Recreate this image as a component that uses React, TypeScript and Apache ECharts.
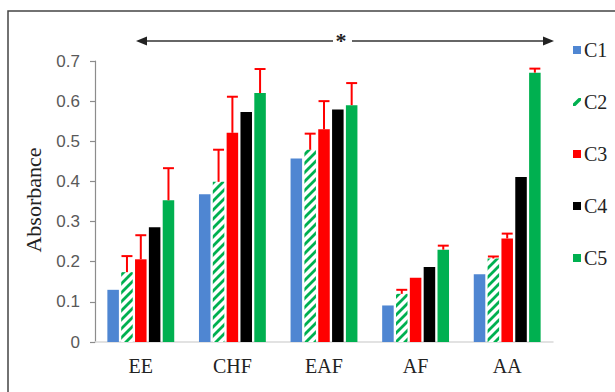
import React, { useEffect, useRef } from "react";
import * as echarts from "echarts";

const categories = ["EE", "CHF", "EAF", "AF", "AA"];
const seriesNames = ["C1", "C2", "C3", "C4", "C5"];
const c1 = [0.13, 0.368, 0.457, 0.091, 0.169];
const c2 = [0.174, 0.399, 0.479, 0.12, 0.208];
const c3 = [0.206, 0.521, 0.53, 0.16, 0.258];
const c4 = [0.286, 0.573, 0.579, 0.187, 0.411];
const c5 = [0.353, 0.62, 0.59, 0.23, 0.671];
const errC2 = [0.04, 0.08, 0.04, 0.01, 0.005];
const errC3 = [0.06, 0.09, 0.07, 0, 0.012];
const errC5 = [0.08, 0.06, 0.055, 0.01, 0.01];
const yTicks = [0, 0.1, 0.2, 0.3, 0.4, 0.5, 0.6, 0.7];

const BLUE = "#4F86D2";
const GREEN = "#00B050";
const RED = "#FF0000";
const BLACK = "#000000";

const CAT_GAP = 0.27;
const BAR_GAP = 0.2;

export default function App() {
  const ref = useRef<HTMLDivElement>(null);
  useEffect(() => {
    if (!ref.current) return;
    const chart = echarts.init(ref.current, null, { renderer: "svg" });

    const T = 9;
    const cv = document.createElement("canvas");
    cv.width = T;
    cv.height = T;
    const ctx = cv.getContext("2d")!;
    ctx.fillStyle = "#ffffff";
    ctx.fillRect(0, 0, T, T);
    ctx.strokeStyle = GREEN;
    ctx.lineWidth = 2.8;
    ctx.beginPath();
    ctx.moveTo(0, T);
    ctx.lineTo(T, 0);
    ctx.moveTo(-T / 2, T / 2);
    ctx.lineTo(T / 2, -T / 2);
    ctx.moveTo(T / 2, T * 1.5);
    ctx.lineTo(T * 1.5, T / 2);
    ctx.stroke();
    const hatch: any = {
      image: cv.toDataURL(),
      repeat: "repeat",
      imageWidth: T,
      imageHeight: T,
    };

    const makeErr = (idx: number, vals: number[], errs: number[]) => ({
      type: "custom",
      z: 5,
      silent: true,
      data: vals.map((v, i) => [i, v, errs[i]]),
      renderItem: (params: any, api: any) => {
        const cat = api.value(0);
        const v = api.value(1);
        const e = api.value(2);
        if (!e) return null;
        const band = api.size([1, 0])[0];
        const groupW = band * (1 - CAT_GAP);
        const barW = groupW / (5 + 4 * BAR_GAP);
        const off = -groupW / 2 + barW / 2 + idx * barW * (1 + BAR_GAP);
        const base = api.coord([cat, v]);
        const top = api.coord([cat, v + e]);
        const x = base[0] + off;
        const capW = barW * 0.95;
        const st = { stroke: RED, lineWidth: 2 };
        return {
          type: "group",
          children: [
            { type: "line", shape: { x1: x, y1: base[1], x2: x, y2: top[1] }, style: st },
            {
              type: "line",
              shape: { x1: x - capW / 2, y1: top[1], x2: x + capW / 2, y2: top[1] },
              style: st,
            },
          ],
        };
      },
    });

    const barBase = {
      type: "bar",
      barCategoryGap: CAT_GAP * 100 + "%",
      barGap: BAR_GAP * 100 + "%",
    };

    const slash = "path://M0,10 L3,10 L10,3 L10,0 L7,0 L0,7 Z";

    chart.setOption({
      animation: false,
      backgroundColor: "#ffffff",
      grid: { left: 95, right: 62, top: 61, bottom: 50 },
      legend: {
        orient: "vertical",
        left: 568,
        top: 35,
        icon: "rect",
        itemWidth: 8,
        itemHeight: 8,
        itemGap: 32,
        textStyle: {
          fontFamily: "Liberation Serif",
          fontSize: 20,
          lineHeight: 20,
          color: "#222",
          padding: [0, 0, 0, -2],
        },
        data: [
          { name: "C1" },
          { name: "C2", icon: slash, itemStyle: { color: GREEN } },
          { name: "C3" },
          { name: "C4" },
          { name: "C5" },
        ],
      },
      xAxis: {
        type: "category",
        data: categories,
        axisLine: { lineStyle: { color: "#D9D9D9", width: 1.5 } },
        axisTick: { show: false },
        axisLabel: {
          fontFamily: "Liberation Serif",
          fontSize: 20,
          color: "#222",
          margin: 14,
        },
      },
      yAxis: {
        type: "value",
        min: yTicks[0],
        max: yTicks[yTicks.length - 1],
        interval: 0.1,
        splitLine: { show: false },
        axisLine: { show: true, lineStyle: { color: "#8C8C8C", width: 1.2 } },
        axisTick: { show: true, length: 5, lineStyle: { color: "#8C8C8C", width: 1.2 } },
        axisLabel: {
          fontFamily: "Liberation Sans",
          fontSize: 17,
          color: "#595959",
          margin: 15,
          formatter: (v: number) => (v === 0 ? "0" : String(Math.round(v * 10) / 10)),
        },
      },
      series: [
        { ...barBase, name: seriesNames[0], data: c1, itemStyle: { color: BLUE } },
        { ...barBase, name: seriesNames[1], data: c2, itemStyle: { color: hatch } },
        { ...barBase, name: seriesNames[2], data: c3, itemStyle: { color: RED } },
        { ...barBase, name: seriesNames[3], data: c4, itemStyle: { color: BLACK } },
        { ...barBase, name: seriesNames[4], data: c5, itemStyle: { color: GREEN } },
        makeErr(1, c2, errC2),
        makeErr(2, c3, errC3),
        makeErr(4, c5, errC5),
      ],
      graphic: [
        {
          type: "rect",
          shape: { x: 8, y: 11, width: 700, height: 500 },
          style: { fill: "none", stroke: "#444", lineWidth: 1.5 },
          silent: true,
        },
        {
          type: "text",
          x: 33,
          y: 200,
          rotation: Math.PI / 2,
          style: {
            text: "Absorbance",
            fontFamily: "Liberation Serif",
            fontSize: 22,
            fill: "#222",
            align: "center",
            verticalAlign: "middle",
          },
        },
        {
          type: "line",
          shape: { x1: 144, y1: 41, x2: 333, y2: 41 },
          style: { stroke: "#333", lineWidth: 1.5 },
        },
        {
          type: "polygon",
          shape: { points: [[136, 41], [147, 36.5], [147, 45.5]] },
          style: { fill: "#222" },
        },
        {
          type: "text",
          x: 341,
          y: 40,
          style: {
            text: "*",
            fontFamily: "Liberation Serif",
            fontSize: 22,
            fontWeight: "bold",
            fill: "#222",
            align: "center",
            verticalAlign: "middle",
          },
        },
        {
          type: "line",
          shape: { x1: 352, y1: 41, x2: 545, y2: 41 },
          style: { stroke: "#333", lineWidth: 1.5 },
        },
        {
          type: "polygon",
          shape: { points: [[554, 41], [543, 36.5], [543, 45.5]] },
          style: { fill: "#222" },
        },
      ],
    });
    return () => chart.dispose();
  }, []);
  return (
    <div
      ref={ref}
      style={{ position: "absolute", left: 0, top: 0, width: 615, height: 392 }}
    />
  );
}
